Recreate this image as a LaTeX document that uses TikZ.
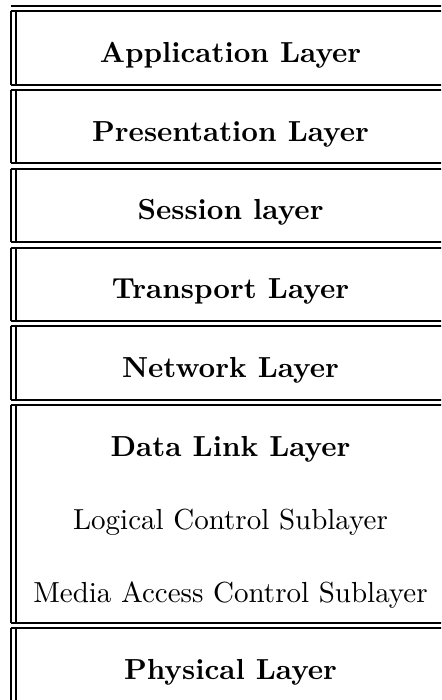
\documentclass[tikz,border=0pt]{standalone}
\usepackage{graphicx}
\begin{document}
\begin{tikzpicture}[x=1pt,y=-1pt,
  rule/.style={line width=2pt},
  layertitle/.style={anchor=base,inner sep=0pt,font=\bfseries,scale=2.9},
  sublayer/.style={anchor=base,inner sep=0pt,font=\normalfont,scale=2.9}]
\useasboundingbox (0,0) rectangle (441,700);
\clip (0,0) rectangle (441,700);
% left double rules and right edge position
\def\xa{10.5}\def\xb{16}\def\xr{470}
% double horizontal rules at the top of each cell
\foreach \t in {11.5,90.2,168.9,247.6,326.3,405,628}{
  \draw[rule] (\xa,\t-5.5) -- (\xr,\t-5.5);
  \draw[rule] (\xa,\t) -- (\xr,\t);
}
% vertical double rules of each cell
\foreach \t/\b in {11.5/84.7,90.2/163.4,168.9/242.1,247.6/320.8,326.3/399.5,405/622.5,628/720}{
  \draw[rule] (\xa,\t) -- (\xa,\b);
  \draw[rule] (\xb,\t) -- (\xb,\b);
}
\node[layertitle] (app) at (230.5,62.5) {Application Layer};
\node[layertitle] (pres) at (230.5,141.2) {Presentation Layer};
\node[layertitle] (sess) at (230.5,219.9) {Session layer};
\node[layertitle] (trans) at (230.5,298.6) {Transport Layer};
\node[layertitle] (net) at (230.5,377.3) {Network Layer};
\node[layertitle] (dll) at (230.5,456) {Data Link Layer};
\node[sublayer] (llc) at (230.5,529) {Logical Control Sublayer};
\node[sublayer] (mac) at (230.5,602) {Media Access Control Sublayer};
\node[layertitle] (phy) at (230.5,679) {Physical Layer};
\end{tikzpicture}
\end{document}
